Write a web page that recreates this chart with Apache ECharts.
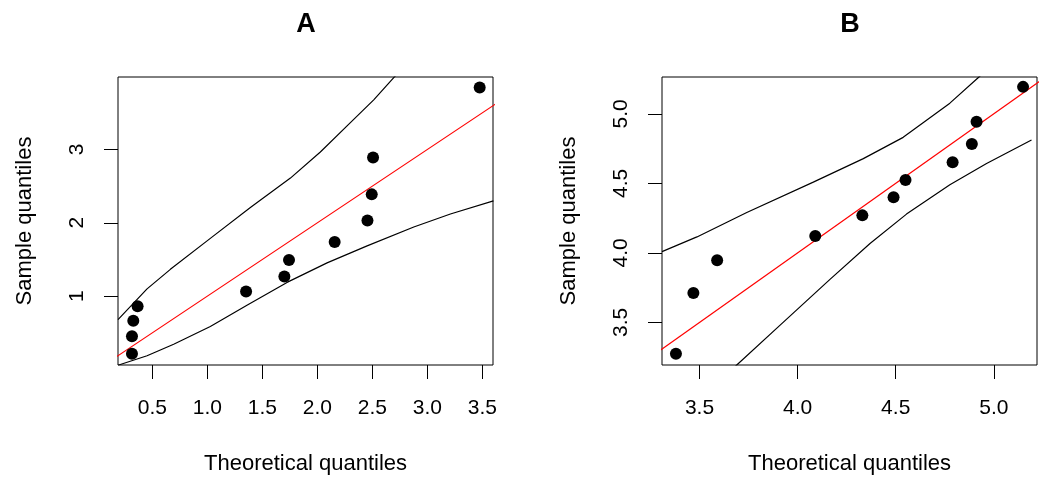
<!DOCTYPE html>
<html lang="en">
<head>
    <meta charset="UTF-8">
    <title>QQ plots</title>
    <script src="https://cdn.jsdelivr.net/npm/echarts@6.0.0/dist/echarts.min.js"></script>
    <style>
        html, body { margin: 0; padding: 0; background: #fff; }
        #chart { width: 1044px; height: 480px; }
    </style>
</head>
<body>
<div id="chart"></div>
<script>
    // panel A: points (theoretical vs sample)
    var ptsAx = [0.315, 0.315, 0.327, 0.366, 1.352, 1.700, 1.742, 2.157, 2.455, 2.494, 2.506, 3.475];
    var ptsAy = [0.213, 0.453, 0.663, 0.863, 1.063, 1.267, 1.493, 1.739, 2.032, 2.387, 2.889, 3.845];
    // panel A: envelope curves
    var upAx = [0.188, 0.452, 0.664, 1.027, 1.391, 1.755, 2.027, 2.300, 2.512, 2.694, 2.900];
    var upAy = [0.680, 1.099, 1.365, 1.787, 2.209, 2.609, 2.965, 3.365, 3.676, 3.979, 4.300];
    var loAx = [0.188, 0.452, 0.694, 1.027, 1.360, 1.724, 2.088, 2.452, 2.876, 3.209, 3.600];
    var loAy = [0.058, 0.187, 0.343, 0.587, 0.876, 1.187, 1.453, 1.685, 1.943, 2.120, 2.299];
    // panel A: reference line
    var refAx = [0.15, 3.65];
    var refAy = [0.15, 3.65];

    // panel B
    var ptsBx = [3.380, 3.469, 3.590, 4.090, 4.330, 4.489, 4.550, 4.790, 4.888, 4.912, 5.149];
    var ptsBy = [3.275, 3.711, 3.948, 4.122, 4.270, 4.401, 4.525, 4.652, 4.784, 4.944, 5.194];
    var upBx = [3.309, 3.487, 3.741, 4.080, 4.335, 4.538, 4.776, 4.920, 5.000];
    var upBy = [4.009, 4.115, 4.291, 4.509, 4.678, 4.831, 5.077, 5.260, 5.360];
    var loBx = [3.620, 3.690, 3.911, 4.165, 4.369, 4.555, 4.776, 4.963, 5.192];
    var loBy = [3.100, 3.194, 3.481, 3.810, 4.068, 4.279, 4.490, 4.643, 4.812];
    var refBx = [3.28, 5.25];
    var refBy = [3.28, 5.25];

    // tick labels
    var xTicksA = [0.5, 1.0, 1.5, 2.0, 2.5, 3.0, 3.5];
    var yTicksA = [1, 2, 3];
    var xTicksB = [3.5, 4.0, 4.5, 5.0];
    var yTicksB = [3.5, 4.0, 4.5, 5.0];

    function pairs(xs, ys) {
        return xs.map(function (x, i) { return [x, ys[i]]; });
    }

    var FONT = 'Liberation Sans, Arial, sans-serif';

    function xAxisOpt(idx, min, max, ticks, digits) {
        return {
            type: 'value', gridIndex: idx, min: min, max: max,
            name: 'Theoretical quantiles', nameLocation: 'middle', nameGap: 88,
            nameTextStyle: {fontSize: 22, color: '#000', fontFamily: FONT},
            axisLine: {show: false},
            splitLine: {show: false},
            axisTick: {show: true, length: 14, customValues: ticks, lineStyle: {color: '#000'}},
            axisLabel: {
                customValues: ticks, margin: 33, fontSize: 21, color: '#000', fontFamily: FONT,
                formatter: function (v) { return Number(v).toFixed(digits); }
            }
        };
    }

    function yAxisOpt(idx, min, max, ticks, digits) {
        return {
            type: 'value', gridIndex: idx, min: min, max: max,
            name: 'Sample quantiles', nameLocation: 'middle', nameGap: 82,
            nameTextStyle: {fontSize: 22, color: '#000', fontFamily: FONT},
            axisLine: {show: false},
            splitLine: {show: false},
            axisTick: {show: true, length: 14, customValues: ticks, lineStyle: {color: '#000'}},
            axisLabel: {
                customValues: ticks, rotate: 90, margin: 30, fontSize: 21, color: '#000', fontFamily: FONT,
                formatter: function (v) { return Number(v).toFixed(digits); }
            }
        };
    }

    function curve(idx, xs, ys, color, width, z) {
        return {
            type: 'line', xAxisIndex: idx, yAxisIndex: idx, data: pairs(xs, ys),
            symbol: 'none', clip: true, z: z,
            lineStyle: {color: color, width: width}
        };
    }

    function dots(idx, xs, ys) {
        return {
            type: 'scatter', xAxisIndex: idx, yAxisIndex: idx, data: pairs(xs, ys),
            symbolSize: 12, itemStyle: {color: '#000', opacity: 1}, z: 5
        };
    }

    var chart = echarts.init(document.getElementById('chart'));
    chart.setOption({
        animation: false,
        title: [
            {text: 'A', left: 301, top: 6, textAlign: 'center',
                textStyle: {fontSize: 27, fontWeight: 'bold', color: '#000', fontFamily: FONT}},
            {text: 'B', left: 845, top: 6, textAlign: 'center',
                textStyle: {fontSize: 27, fontWeight: 'bold', color: '#000', fontFamily: FONT}}
        ],
        grid: [
            {left: 118, top: 77, width: 375, height: 294, show: true, borderColor: '#000', borderWidth: 1},
            {left: 662, top: 77, width: 375, height: 294, show: true, borderColor: '#000', borderWidth: 1}
        ],
        xAxis: [
            xAxisOpt(0, 0.188, 3.596, xTicksA, 1),
            xAxisOpt(1, 3.309, 5.220, xTicksB, 1)
        ],
        yAxis: [
            yAxisOpt(0, 0.061, 3.987, yTicksA, 0),
            yAxisOpt(1, 3.194, 5.265, yTicksB, 1)
        ],
        series: [
            curve(0, upAx, upAy, '#000', 1.2, 2),
            curve(0, loAx, loAy, '#000', 1.2, 2),
            curve(0, refAx, refAy, '#ff0000', 1.2, 3),
            dots(0, ptsAx, ptsAy),
            curve(1, upBx, upBy, '#000', 1.2, 2),
            curve(1, loBx, loBy, '#000', 1.2, 2),
            curve(1, refBx, refBy, '#ff0000', 1.2, 3),
            dots(1, ptsBx, ptsBy)
        ]
    });
</script>
</body>
</html>
